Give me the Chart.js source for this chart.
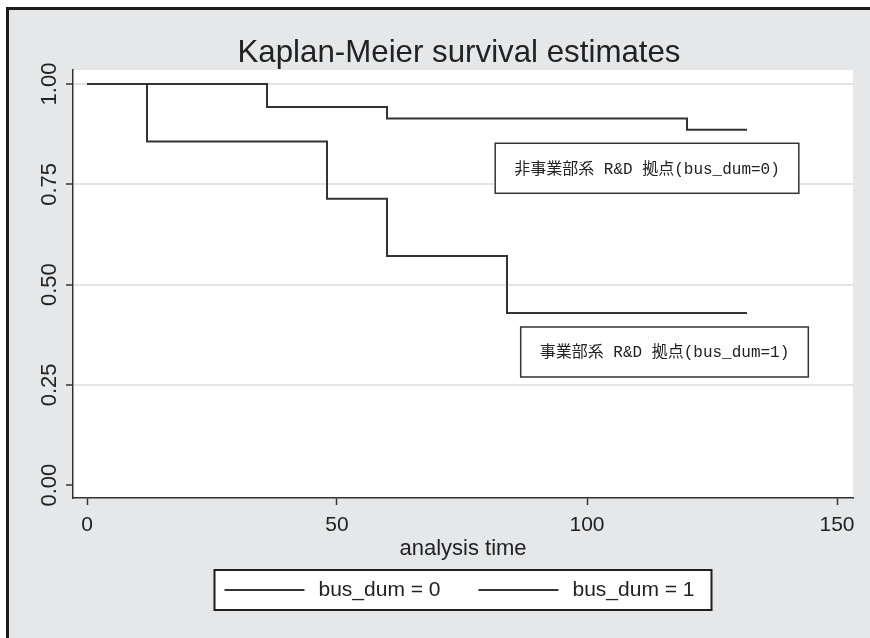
<!DOCTYPE html>
<html>
<head>
<meta charset="utf-8">
<script src="https://cdn.jsdelivr.net/npm/chart.js@4"></script>
<style>
  html, body { margin: 0; padding: 0; background: #fff; }
  #wrap { width: 870px; height: 638px; }
</style>
</head>
<body>
<div id="wrap"><canvas id="km"></canvas></div>
<script>
// Kaplan-Meier survival estimates, by bus_dum
const groupLabels = ['bus_dum = 0', 'bus_dum = 1'];
const time0 = [0, 36, 60, 120, 132];
const surv0 = [1.000, 0.943, 0.914, 0.886, 0.886];
const time1 = [0, 12, 48, 60, 84, 132];
const surv1 = [1.000, 0.857, 0.714, 0.571, 0.429, 0.429];
const xTicks = [0, 50, 100, 150];
const yTicks = [0, 0.25, 0.5, 0.75, 1];
const yTickLabels = ['0.00', '0.25', '0.50', '0.75', '1.00'];
const noteTexts = ['非事業部系 R&D 拠点(bus_dum=0)', '事業部系 R&D 拠点(bus_dum=1)'];

const SANS = '"Liberation Sans", Arial, sans-serif';
const NOTE_FONT = '16px "Liberation Mono", "Noto Sans CJK JP", monospace';
const INK = '#222';
const LINE = '#333';

// where the text boxes sit, in data units (time, survival)
const notePlace = [{ x: 112, y: 0.79 }, { x: 115.5, y: 0.332 }];

function toPoints(ts, ss) {
    return ts.map((t, i) => ({ x: t, y: ss[i] }));
}

// text squeezed sideways a little, the graph font is a narrow one
function narrowText(ctx, txt, x, y, k) {
    ctx.save();
    ctx.translate(x, y);
    ctx.scale(k, 1);
    ctx.fillText(txt, 0, 0);
    ctx.restore();
}

const kmDecor = {
    id: 'kmDecor',
    beforeDraw(chart) {
        const { ctx, width, height, chartArea: a } = chart;
        ctx.save();
        ctx.fillStyle = '#fff';
        ctx.fillRect(0, 0, width, height);
        ctx.fillStyle = '#e6e7e8';
        ctx.fillRect(8, 9, width - 8, height - 9);
        ctx.fillStyle = '#fff';
        ctx.fillRect(a.left, a.top, a.right - a.left, a.bottom - a.top);
        // scanned frame edge, top and left only
        ctx.strokeStyle = '#1c1c1c';
        ctx.lineWidth = 3;
        ctx.beginPath();
        ctx.moveTo(7.5, height);
        ctx.lineTo(7.5, 8.5);
        ctx.lineTo(width, 8.5);
        ctx.stroke();
        ctx.restore();
    },
    afterDraw(chart) {
        const { ctx, chartArea: a } = chart;
        const sx = chart.scales.x, sy = chart.scales.y;
        ctx.save();

        // title
        ctx.fillStyle = INK;
        ctx.font = '32px ' + SANS;
        ctx.textAlign = 'center';
        ctx.textBaseline = 'alphabetic';
        const tt = 'Kaplan-Meier survival estimates';
        narrowText(ctx, tt, 459, 62, 443 / ctx.measureText(tt).width);

        // rotated y tick labels
        ctx.font = '22px ' + SANS;
        yTicks.forEach((v, i) => {
            ctx.save();
            ctx.translate(56, sy.getPixelForValue(v));
            ctx.rotate(-Math.PI / 2);
            ctx.fillText(yTickLabels[i], 0, 0);
            ctx.restore();
        });

        // text boxes
        ctx.font = NOTE_FONT;
        ctx.textBaseline = 'middle';
        noteTexts.forEach((txt, i) => {
            const cx = sx.getPixelForValue(notePlace[i].x);
            const cy = sy.getPixelForValue(notePlace[i].y);
            const w = ctx.measureText(txt).width + 38;
            const h = 50;
            ctx.fillStyle = '#fff';
            ctx.fillRect(cx - w / 2, cy - h / 2, w, h);
            ctx.strokeStyle = LINE;
            ctx.lineWidth = 1.5;
            ctx.strokeRect(cx - w / 2, cy - h / 2, w, h);
            ctx.fillStyle = INK;
            ctx.fillText(txt, cx, cy + 1);
        });

        // legend box under the axis title
        const ds = chart.data.datasets;
        ctx.font = '21px ' + SANS;
        ctx.textAlign = 'left';
        const widths = ds.map(d => ctx.measureText(d.label).width);
        const sample = 80, gap = 14, between = 38, padL = 10, padR = 17;
        const total = padL + padR + ds.length * (sample + gap) + widths.reduce((p, q) => p + q, 0) + between * (ds.length - 1);
        const bx = (a.left + a.right) / 2 - total / 2;
        const by = 570, bh = 40;
        ctx.fillStyle = '#fff';
        ctx.fillRect(bx, by, total, bh);
        ctx.strokeStyle = '#1e1e1e';
        ctx.lineWidth = 2;
        ctx.strokeRect(bx, by, total, bh);
        let x = bx + padL;
        const my = by + bh / 2;
        ds.forEach((d, i) => {
            ctx.strokeStyle = d.borderColor;
            ctx.lineWidth = d.borderWidth;
            ctx.beginPath();
            ctx.moveTo(x, my);
            ctx.lineTo(x + sample, my);
            ctx.stroke();
            x += sample + gap;
            ctx.fillStyle = INK;
            ctx.fillText(d.label, x, my);
            x += widths[i] + between;
        });

        ctx.restore();
    }
};

new Chart(document.getElementById('km'), {
    type: 'line',
    data: {
        datasets: [
            { label: groupLabels[0], data: toPoints(time0, surv0) },
            { label: groupLabels[1], data: toPoints(time1, surv1) }
        ].map(d => Object.assign(d, {
            stepped: 'before',
            borderColor: LINE,
            borderWidth: 2,
            pointRadius: 0,
            fill: false
        }))
    },
    options: {
        responsive: true,
        maintainAspectRatio: false,
        animation: false,
        layout: { padding: { left: 0, top: 70, right: 17, bottom: 78 } },
        plugins: {
            legend: { display: false },
            title: { display: false },
            tooltip: { enabled: false }
        },
        scales: {
            x: {
                type: 'linear',
                min: -2.8,
                max: 153.2,
                afterBuildTicks: s => { s.ticks = xTicks.map(v => ({ value: v })); },
                afterFit: s => { s.height = 62; },
                ticks: { color: INK, font: { family: SANS, size: 21 }, padding: 8, maxRotation: 0 },
                grid: { drawOnChartArea: false, drawTicks: true, tickLength: 7, tickColor: LINE, tickWidth: 1.5 },
                border: { display: true, color: LINE, width: 1.5 },
                title: { display: true, text: 'analysis time', color: INK, font: { family: SANS, size: 22 }, padding: { top: 0, bottom: -2 } }
            },
            y: {
                min: -0.032,
                max: 1.035,
                afterBuildTicks: s => { s.ticks = yTicks.map(v => ({ value: v })); },
                afterFit: s => { s.width = 73; },
                ticks: { display: false },
                grid: {
                    color: c => (c.tick && c.tick.value === 0 ? 'rgba(0,0,0,0)' : '#e4e4e4'),
                    lineWidth: 2,
                    drawTicks: true,
                    tickLength: 7,
                    tickColor: LINE,
                    tickWidth: 1.5
                },
                border: { display: true, color: LINE, width: 1.5 }
            }
        }
    },
    plugins: [kmDecor]
});
</script>
</body>
</html>
